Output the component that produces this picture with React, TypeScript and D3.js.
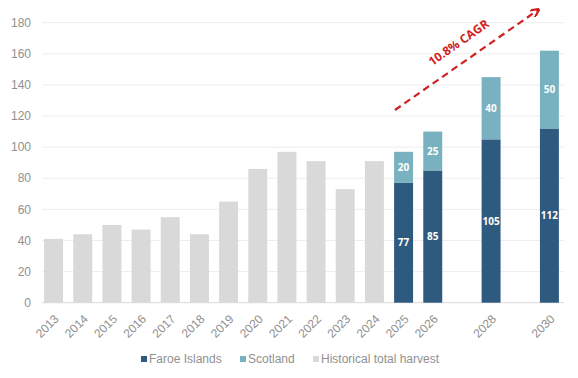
import React from "react";
import * as d3 from "d3";

const years = ["2013","2014","2015","2016","2017","2018","2019","2020","2021","2022","2023","2024","2025","2026","2027","2028","2029","2030"];
const shownYears = ["2013","2014","2015","2016","2017","2018","2019","2020","2021","2022","2023","2024","2025","2026","2028","2030"];
const historicalYears = ["2013","2014","2015","2016","2017","2018","2019","2020","2021","2022","2023","2024"];
const historicalValues = [41, 44, 50, 47, 55, 44, 65, 86, 97, 91, 73, 91];
const forecastYears = ["2025","2026","2028","2030"];
const faroeValues = [77, 85, 105, 112];
const scotlandValues = [20, 25, 40, 50];
const yTicks = [0, 20, 40, 60, 80, 100, 120, 140, 160, 180];
const legendLabels = ["Faroe Islands", "Scotland", "Historical total harvest"];
const cagrLabel = "10.8% CAGR";

const W = 578, H = 378;
const C_FAROE = "#2f5a80";
const C_SCOT = "#78b1bf";
const C_HIST = "#d9d9d9";
const C_RED = "#d02020";
const C_TEXT = "#909090";

export default function App() {
  const x = d3.scaleBand<string>().domain(years).range([39, 564]).paddingInner(0.35).paddingOuter(0.175);
  const y = d3.scaleLinear().domain([0, 180]).range([302.7, 22.7]);
  const bw = x.bandwidth();
  const axisFont = "'Liberation Sans', Arial, sans-serif";
  const boldFont = "'Open Sans', 'Liberation Sans', sans-serif";

  const ax0 = 395, ay0 = 110, ax1 = 538, ay1 = 10;
  const ang = Math.atan2(ay1 - ay0, ax1 - ax0);
  const angDeg = (ang * 180) / Math.PI;

  const legendItems = [
    { label: legendLabels[0], color: C_FAROE, x: 141 },
    { label: legendLabels[1], color: C_SCOT, x: 240 },
    { label: legendLabels[2], color: C_HIST, x: 313 },
  ];

  return (
    <svg width={W} height={H} style={{ position: "absolute", left: 0, top: 0, background: "#fff" }}>
      {yTicks.map((t) => (
        <g key={t}>
          <line x1={42} x2={564} y1={y(t)} y2={y(t)} stroke={t === 0 ? "#d9d9d9" : "#ededed"} strokeWidth={1} />
          <text x={31} y={y(t)} dy="0.35em" textAnchor="end" fontFamily={axisFont} fontSize={12} fill={C_TEXT}>{t}</text>
        </g>
      ))}
      {historicalYears.map((yr, i) => (
        <rect key={yr} x={x(yr)} y={y(historicalValues[i])} width={bw} height={y(0) - y(historicalValues[i])} fill={C_HIST} />
      ))}
      {forecastYears.map((yr, i) => {
        const f = faroeValues[i], s = scotlandValues[i];
        const cx = (x(yr) as number) + bw / 2;
        return (
          <g key={yr}>
            <rect x={x(yr)} y={y(f)} width={bw} height={y(0) - y(f)} fill={C_FAROE} />
            <rect x={x(yr)} y={y(f + s)} width={bw} height={y(f) - y(f + s)} fill={C_SCOT} />
            <text x={cx} y={(y(0) + y(f)) / 2} dy="0.35em" textAnchor="middle" fontFamily={boldFont} fontWeight="bold" fontSize={10} fill="#fff">{f}</text>
            <text x={cx} y={(y(f) + y(f + s)) / 2} dy="0.35em" textAnchor="middle" fontFamily={boldFont} fontWeight="bold" fontSize={10} fill="#fff">{s}</text>
          </g>
        );
      })}
      {shownYears.map((yr) => {
        const cx = (x(yr) as number) + bw / 2;
        return (
          <text key={yr} transform={`translate(${cx + 3},${y(0) + 14}) rotate(-45)`} textAnchor="end" dy="0.35em" fontFamily={axisFont} fontSize={12} fill={C_TEXT}>{yr}</text>
        );
      })}
      <defs>
        <marker id="arrowhead" viewBox="0 0 10 10" refX="8" refY="5" markerWidth="4" markerHeight="4" orient="auto">
          <path d="M0,0 L10,5 L0,10" fill="none" stroke={C_RED} strokeWidth={2.5} />
        </marker>
      </defs>
      <line x1={ax0} y1={ay0} x2={ax1} y2={ay1} stroke={C_RED} strokeWidth={2.2} strokeDasharray="7,4.5" markerEnd="url(#arrowhead)" />
      <text transform={`translate(${461},${46}) rotate(${angDeg})`} textAnchor="middle" fontFamily={boldFont} fontWeight="bold" fontSize={12} fill={C_RED}>{cagrLabel}</text>
      {legendItems.map((it) => (
        <g key={it.label}>
          <rect x={it.x} y={356} width={6} height={6} fill={it.color} />
          <text x={it.x + 8} y={359} dy="0.35em" fontFamily={axisFont} fontSize={12} fill={C_TEXT}>{it.label}</text>
        </g>
      ))}
    </svg>
  );
}
